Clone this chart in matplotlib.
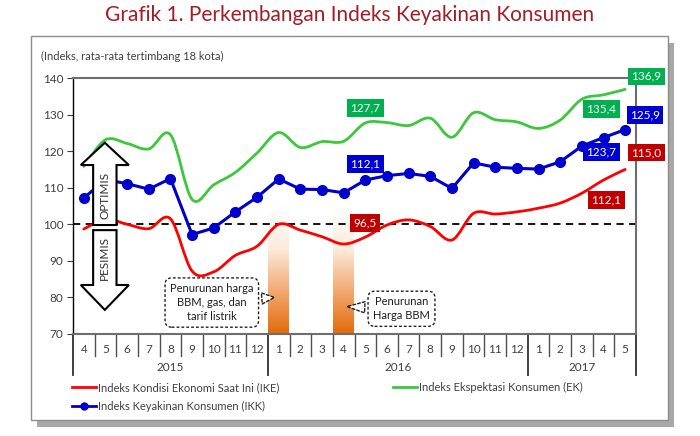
import matplotlib
matplotlib.use("Agg")
import matplotlib.pyplot as plt
import matplotlib.transforms as mtransforms
import numpy as np
from matplotlib.path import Path
from matplotlib.patches import PathPatch, Polygon, Rectangle
from matplotlib.colors import LinearSegmentedColormap
from matplotlib.lines import Line2D

plt.rcParams["font.family"] = ["Lato", "DejaVu Sans"]

# ---- data ----
months = ["4", "5", "6", "7", "8", "9", "10", "11", "12",
          "1", "2", "3", "4", "5", "6", "7", "8", "9", "10", "11", "12",
          "1", "2", "3", "4", "5"]
years = ["2015", "2016", "2017"]
year_len = [9, 12, 5]

ike = [98.7, 101.4, 100.0, 98.8, 101.5, 87.2, 87.0, 91.5, 94.0, 100.0, 98.4, 96.6, 94.6,
       96.5, 99.8, 101.2, 99.4, 95.7, 103.0, 102.8, 103.4, 104.4, 105.8, 108.5, 112.1, 115.0]
ek = [115.8, 123.1, 122.1, 120.6, 124.5, 106.8, 110.8, 114.2, 119.5, 125.1, 121.0, 122.6, 122.7,
      127.7, 127.8, 127.0, 129.0, 123.8, 130.5, 128.6, 128.0, 126.2, 128.5, 134.2, 135.4, 136.9]
ikk = [107.2, 112.2, 111.1, 109.6, 112.5, 97.2, 99.0, 103.4, 107.4, 112.4, 109.6, 109.5, 108.6,
       112.1, 113.3, 113.9, 113.1, 109.8, 116.8, 115.6, 115.3, 115.1, 117.1, 121.4, 123.7, 125.9]

event_months = [9, 12]   # Jan 2016, Apr 2016
event_texts = ["Penurunan harga\nBBM, gas, dan\ntarif listrik", "Penurunan\nHarga BBM"]

RED = "#FF0000"
GREEN = "#3CC83C"
BLUE = "#0000CC"
C_RED = "#C00000"
C_GREEN = "#00B050"
C_BLUE = "#0000D0"
GREY = "#404040"


def smooth_path(yv):
    pts = np.column_stack([np.arange(len(yv)), yv]).astype(float)
    n = len(pts)
    verts = [pts[0]]
    codes = [Path.MOVETO]
    for k in range(n - 1):
        p0 = pts[k - 1] if k > 0 else pts[k]
        p1 = pts[k]
        p2 = pts[k + 1]
        p3 = pts[k + 2] if k + 2 < n else pts[k + 1]
        verts += [p1 + (p2 - p0) / 6, p2 - (p3 - p1) / 6, p2]
        codes += [Path.CURVE4] * 3
    return Path(verts, codes)


fig = plt.figure(figsize=(7, 4.36), dpi=100)
fig.patch.set_facecolor("white")

# outer frame with shadow
fx0, fy0, fw, fh = 31 / 700, 1 - 420 / 436, 637 / 700, 384 / 436
fig.patches.append(Rectangle((fx0 + 6 / 700, fy0 - 7 / 436), fw, fh, transform=fig.transFigure,
                             fc="#A8A8A8", ec="none", zorder=-3))
fig.patches.append(Rectangle((fx0, fy0), fw, fh, transform=fig.transFigure,
                             fc="white", ec="#8C8C8C", lw=1, zorder=-2))

fig.text(0.5, 1 - 15 / 436, "Grafik 1. Perkembangan Indeks Keyakinan Konsumen",
         ha="center", va="center", fontsize=15, color="#A31D24")
fig.text(41 / 700, 1 - 56 / 436, "(Indeks, rata-rata tertimbang 18 kota)",
         ha="left", va="center", fontsize=8, color=GREY)

ax = fig.add_axes([73 / 700, 1 - 334 / 436, 563 / 700, 256 / 436])
n = len(months)
x = np.arange(n)

# gradient bars for events
cmap = LinearSegmentedColormap.from_list("org", ["#E26B0A", "#F2A870", "#FDEBDD", "#FFFFFF"])
grad = np.linspace(0, 1, 256).reshape(-1, 1)
for m in event_months:
    ax.imshow(grad, cmap=cmap, origin="lower", aspect="auto",
              extent=[m - 0.48, m + 0.48, 70, 105], zorder=1)

ax.axhline(100, color="black", lw=1.3, ls=(0, (4, 3)), zorder=2)

ax.add_patch(PathPatch(smooth_path(ike), fc="none", ec=RED, lw=2, zorder=3, capstyle="round"))
ax.add_patch(PathPatch(smooth_path(ek), fc="none", ec=GREEN, lw=2, zorder=3, capstyle="round"))
ax.plot(x, ikk, color=BLUE, lw=2.2, marker="o", ms=7, zorder=4)

# optimis / pesimis arrows
cx, hw, sw = 0.97, 1.11, 0.54
up = [(cx, 122.3), (cx + hw, 116.2), (cx + sw, 116.2), (cx + sw, 99.8),
      (cx - sw, 99.8), (cx - sw, 116.2), (cx - hw, 116.2)]
dn = [(cx, 76.6), (cx + hw, 83.4), (cx + sw, 83.4), (cx + sw, 98.4),
      (cx - sw, 98.4), (cx - sw, 83.4), (cx - hw, 83.4)]
for poly in (up, dn):
    ax.add_patch(Polygon(poly, closed=True, fc="white", ec="black", lw=1.5, zorder=5))
ax.text(cx, 108, "OPTIMIS", rotation=90, ha="center", va="center", fontsize=8.5, color="#303030", zorder=6)
ax.text(cx, 90.9, "PESIMIS", rotation=90, ha="center", va="center", fontsize=8.5, color="#303030", zorder=6)

# callouts
callout_pos = [((8.8, 80.0), (5.91, 78.6)), ((12.15, 77.5), (14.67, 76.9))]
for txt, (tip, ctr) in zip(event_texts, callout_pos):
    ax.annotate(txt, xy=tip, xytext=ctr, ha="center", va="center", fontsize=8, color="#202020",
                linespacing=1.35, zorder=7,
                bbox=dict(boxstyle="round,pad=0.45,rounding_size=0.6", fc="white", ec="#202020",
                          lw=1, ls=(0, (2, 1.5))),
                arrowprops=dict(arrowstyle="wedge,tail_width=1.0,shrink_factor=0.5", fc="white",
                                ec="#202020", lw=1, ls=(0, (2, 1.5)), shrinkB=0))

# value labels: (series, colour, index, dx px, dy px)
labels = [(ek, C_GREEN, 13, 0, 15), (ikk, C_BLUE, 13, 0, 16), (ike, C_RED, 13, 0, 14),
          (ek, C_GREEN, 24, -2, -14), (ikk, C_BLUE, 24, -2, -14.5), (ike, C_RED, 24, 3, -20),
          (ek, C_GREEN, 25, 21, 13), (ikk, C_BLUE, 25, 20, 14.5), (ike, C_RED, 25, 21, 17)]
for ser, col, i, dx, dy in labels:
    ax.annotate(f"{ser[i]:.1f}".replace(".", ","), xy=(i, ser[i]), xytext=(dx * 0.72, dy * 0.72),
                textcoords="offset points", ha="center", va="center", fontsize=8.5, color="white",
                zorder=8, annotation_clip=False,
                bbox=dict(boxstyle="square,pad=0.28", fc=col, ec="none"))

ax.set_xlim(-0.5, n - 0.5)
ax.set_ylim(70, 140)
ax.set_yticks(np.arange(70, 141, 10))
ax.tick_params(axis="y", length=4, color=GREY, labelsize=8.5, labelcolor=GREY, pad=3)
ax.set_xticks(x)
ax.set_xticklabels(months)
ax.tick_params(axis="x", length=0, labelsize=8.5, labelcolor=GREY, pad=7)

for s in ("top", "right", "bottom"):
    ax.spines[s].set_color("#6E6E6E")
    ax.spines[s].set_linewidth(1.5)
ax.spines["left"].set_color("black")
ax.spines["left"].set_linewidth(1)

trans = mtransforms.blended_transform_factory(ax.transData, ax.transAxes)
bounds = np.cumsum([0] + year_len) - 0.5
for b in np.arange(-0.5, n):
    long = np.any(np.isclose(b, bounds))
    ax.plot([b, b], [0, -0.16 if long else -0.086], transform=trans, clip_on=False,
            color="#303030" if long else "#505050", lw=1.3 if long else 1)
for k, yr in enumerate(years):
    ax.text((bounds[k] + bounds[k + 1]) / 2, -0.129, yr, transform=trans, ha="center",
            va="center", fontsize=8.5, color=GREY)

# legend
h_ike = Line2D([], [], color=RED, lw=2)
h_ek = Line2D([], [], color=GREEN, lw=2)
h_ikk = Line2D([], [], color=BLUE, lw=2, marker="o", ms=5)
kw = dict(frameon=False, fontsize=8, handlelength=2.2, handletextpad=0.1, borderpad=0,
          borderaxespad=0, labelcolor=GREY, labelspacing=0.75, loc="upper left")
fig.legend([h_ike, h_ikk], ["Indeks Kondisi Ekonomi Saat Ini (IKE)", "Indeks Keyakinan Konsumen (IKK)"],
           bbox_to_anchor=(72 / 700, 1 - 382 / 436), **kw)
fig.legend([h_ek], ["Indeks Ekspektasi Konsumen (EK)"], bbox_to_anchor=(393 / 700, 1 - 382 / 436), **kw)

fig.savefig("out.png", dpi=100)
